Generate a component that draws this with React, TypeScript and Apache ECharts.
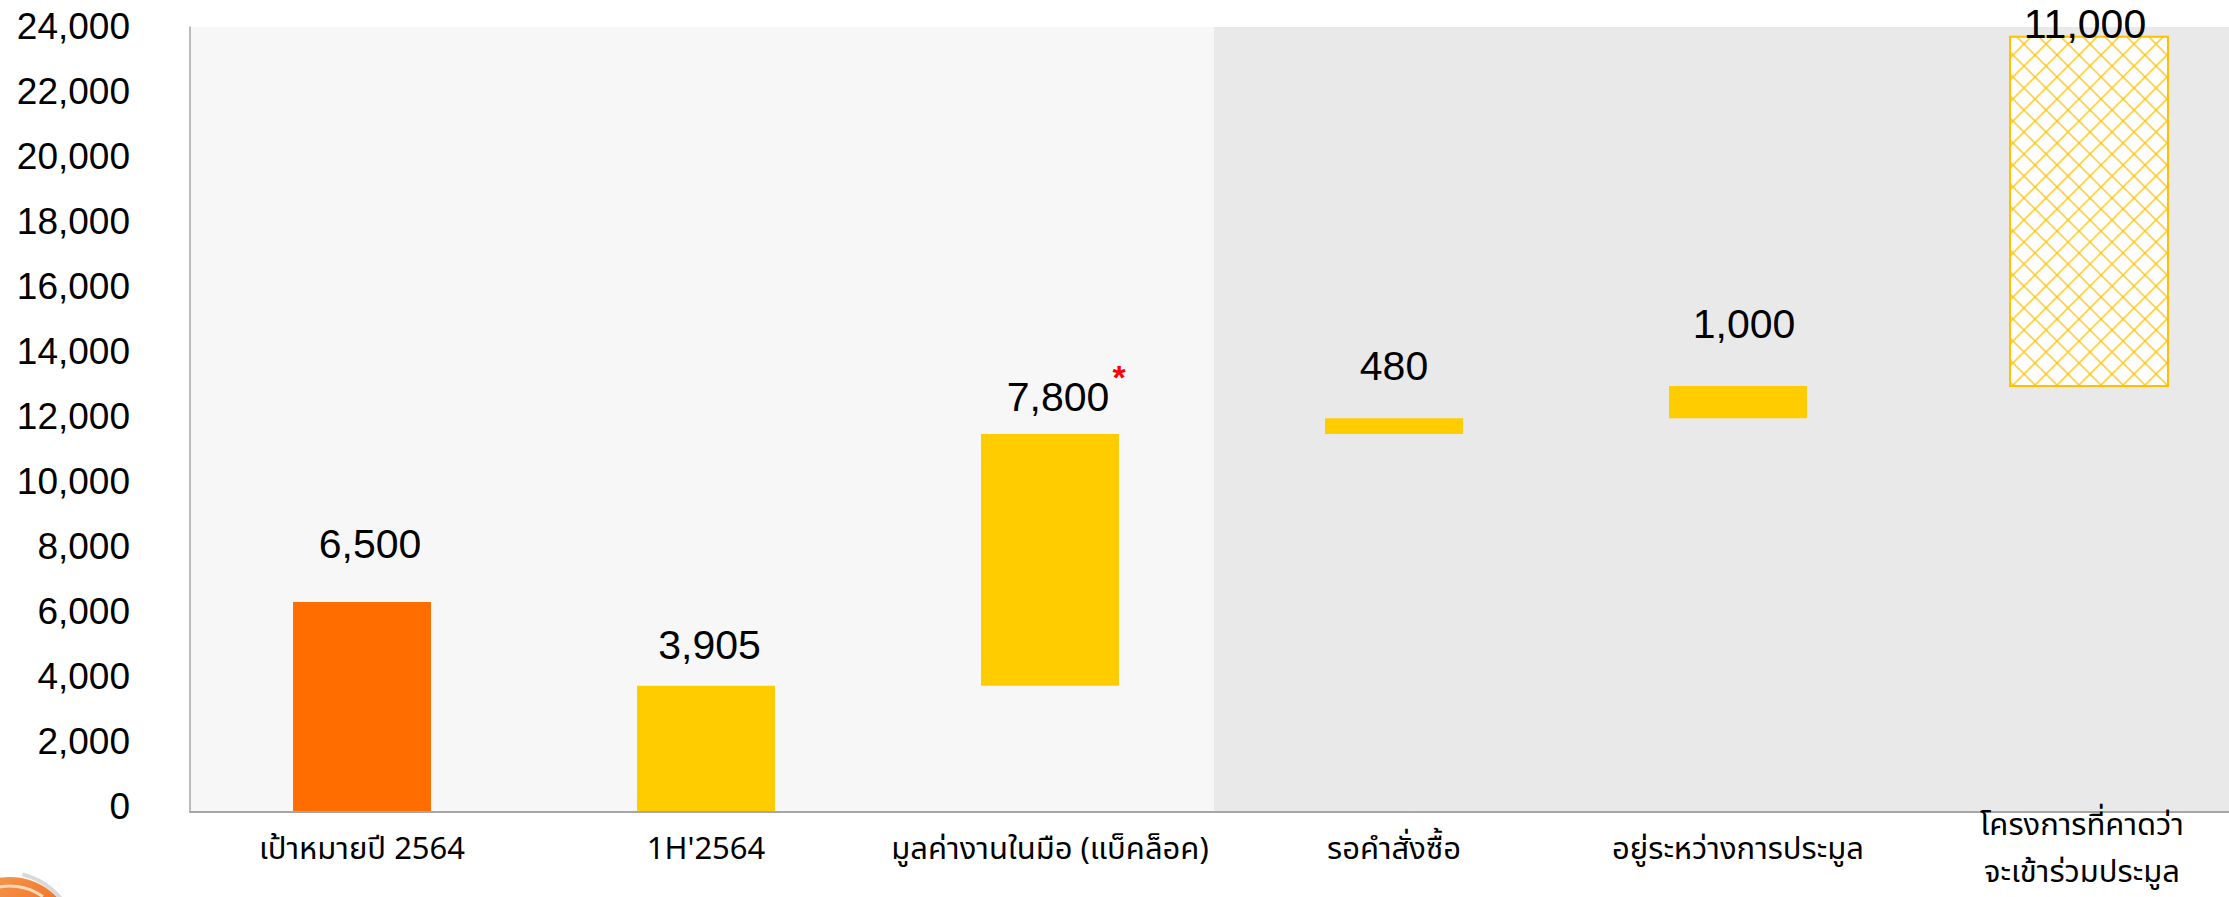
import React, { useEffect, useRef } from 'react';
import * as echarts from 'echarts';

// ---------- data ----------
const categories = [
  'เป้าหมายปี 2564',
  "1H'2564",
  'มูลค่างานในมือ (แบ็คล็อค)',
  'รอคำสั่งซื้อ',
  'อยู่ระหว่างการประมูล',
  'โครงการที่คาดว่า\nจะเข้าร่วมประมูล',
];
const barValues = [6500, 3905, 7800, 480, 1000, 11000];
const barLabels = ['6,500', '3,905', '7,800', '480', '1,000', '11,000'];
const barMarks = ['', '', '*', '', '', ''];
const startsFromZero = [true, true, false, false, false, false];
const barKinds = ['target', 'actual', 'actual', 'actual', 'actual', 'expected'];
const zoneFirst = [0, 3];
const zoneLast = [2, 5];
const yTicks = [0, 2000, 4000, 6000, 8000, 10000, 12000, 14000, 16000, 18000, 20000, 22000, 24000];
const yTickMax = 24000;
const yAxisMax = 24300;

// ---------- layout / style ----------
const barWidthRatio = [0.401, 0.401, 0.401, 0.401, 0.401, 0.459];
const barShiftPx = [0, 0, 0, 0, 0, 7];
const labelDx = [8, 3.5, 8, 0, 6, 3];
const labelRise = [58, 41, 36.5, 52, 62, 13];
const zoneStartShift = [0, -8];
const zoneEndShift = [-8, 0];
const zoneFill = ['#f7f7f7', '#e9e9e9'];
const yLabelLiftBottom = 6;
const yLabelLiftTop = 10;
const kindFill: Record<string, string> = { target: '#ff6d00', actual: '#ffcc00', expected: '#ffffff' };
const hatchColor = '#ffc000';
const numFont = '"Liberation Sans", Arial, sans-serif';
const thaiFont = '"Noto Sans Thai", "Liberation Sans", Arial, sans-serif';

const barLow: number[] = [];
const barHigh: number[] = [];
barValues.forEach((v, i) => {
  const low = startsFromZero[i] ? 0 : barHigh[i - 1];
  barLow.push(low);
  barHigh.push(low + v);
});

function hatchLines(x0: number, y0: number, x1: number, y1: number, period: number) {
  const out: any[] = [];
  const style = { stroke: hatchColor, lineWidth: 1.7, opacity: 0.72 };
  const c0 = Math.ceil((x0 - y1) / period) * period;
  for (let c = c0; c <= x1 - y0; c += period) {
    const a = Math.max(x0, y0 + c);
    const b = Math.min(x1, y1 + c);
    if (b > a) out.push({ type: 'line', shape: { x1: a, y1: a - c, x2: b, y2: b - c }, style, silent: true });
  }
  const d0 = Math.ceil((x0 + y0) / period) * period;
  for (let c = d0; c <= x1 + y1; c += period) {
    const a = Math.max(x0, c - y1);
    const b = Math.min(x1, c - y0);
    if (b > a) out.push({ type: 'line', shape: { x1: a, y1: c - a, x2: b, y2: c - b }, style, silent: true });
  }
  return out;
}

export default function App() {
  const ref = useRef<HTMLDivElement>(null);
  useEffect(() => {
    document.body.style.margin = '0';
    document.body.style.overflow = 'hidden';
    if (!ref.current) return;
    const chart = echarts.init(ref.current, undefined, { renderer: 'svg' });
    const option: any = {
      animation: false,
      backgroundColor: '#ffffff',
      grid: { left: 190, top: 27, width: 2064, height: 785, containLabel: false, outerBoundsMode: 'none' },
      xAxis: {
        type: 'category',
        data: categories,
        z: 10,
        axisTick: { show: false },
        axisLine: { show: true, lineStyle: { color: '#a6a6a6', width: 2 } },
        axisLabel: {
          interval: 0,
          margin: 37,
          verticalAlign: 'middle',
          fontSize: 31,
          lineHeight: 47,
          color: '#000000',
          fontFamily: thaiFont,
        },
        splitLine: { show: false },
      },
      yAxis: {
        type: 'value',
        min: 0,
        max: yAxisMax,
        interval: 2000,
        z: 10,
        axisTick: { show: false },
        splitLine: { show: false },
        axisLine: { show: true, lineStyle: { color: '#a6a6a6', width: 1.5 } },
        axisLabel: { show: false },
      },
      series: [
        {
          type: 'custom',
          name: 'zones',
          silent: true,
          z: 1,
          data: zoneFirst.map((f, i) => [f, zoneLast[i], i]),
          renderItem: (params: any, api: any) => {
            const first = api.value(0);
            const last = api.value(1);
            const zi = api.value(2);
            const band = api.size([1, 0])[0];
            const a = api.coord([first, 0])[0] - band / 2 + zoneStartShift[zi];
            const b = api.coord([last, 0])[0] + band / 2 + zoneEndShift[zi];
            const cs = params.coordSys;
            return {
              type: 'rect',
              shape: { x: a, y: cs.y, width: b - a, height: cs.height },
              style: { fill: zoneFill[zi] },
              silent: true,
            };
          },
        },
        {
          type: 'custom',
          name: 'yLabels',
          silent: true,
          clip: false,
          z: 5,
          data: yTicks.map((v) => [0, v]),
          renderItem: (params: any, api: any) => {
            const v = api.value(1);
            const p = api.coord([0, v]);
            const lift = yLabelLiftBottom + (yLabelLiftTop - yLabelLiftBottom) * (v / yTickMax);
            return {
              type: 'text',
              x: params.coordSys.x - 60,
              y: p[1] - lift,
              style: {
                text: v.toLocaleString('en-US'),
                fill: '#000000',
                fontSize: 37,
                fontFamily: numFont,
                align: 'right',
                verticalAlign: 'middle',
              },
            };
          },
        },
        {
          type: 'custom',
          name: 'bars',
          z: 3,
          clip: false,
          data: categories.map((_, i) => [i, barLow[i], barHigh[i]]),
          renderItem: (params: any, api: any) => {
            const i = params.dataIndex;
            const low = api.value(1);
            const high = Math.min(api.value(2), yTickMax);
            const pLow = api.coord([i, low]);
            const pHigh = api.coord([i, high]);
            const band = api.size([1, 0])[0];
            const w = band * barWidthRatio[i];
            const cx = pLow[0] + barShiftPx[i];
            const x0 = cx - w / 2;
            const x1 = cx + w / 2;
            const y0 = pHigh[1];
            const y1 = pLow[1];
            const children: any[] = [];
            if (barKinds[i] === 'expected') {
              children.push({ type: 'rect', shape: { x: x0, y: y0, width: w, height: y1 - y0 }, style: { fill: kindFill.expected } });
              children.push(...hatchLines(x0, y0, x1, y1, 22));
              children.push({
                type: 'rect',
                shape: { x: x0, y: y0, width: w, height: y1 - y0 },
                style: { fill: 'none', stroke: hatchColor, lineWidth: 2 },
              });
            } else {
              children.push({ type: 'rect', shape: { x: x0, y: y0, width: w, height: y1 - y0 }, style: { fill: kindFill[barKinds[i]] } });
            }
            const lx = pLow[0] + labelDx[i];
            const ly = y0 - labelRise[i];
            children.push({
              type: 'text',
              x: lx,
              y: ly,
              style: {
                text: barLabels[i],
                fill: '#000000',
                fontSize: 41,
                fontFamily: numFont,
                align: 'center',
                verticalAlign: 'middle',
              },
            });
            if (barMarks[i]) {
              children.push({
                type: 'text',
                x: lx + 61,
                y: ly - 20,
                style: {
                  text: barMarks[i],
                  fill: '#ff0000',
                  fontSize: 34,
                  fontWeight: 'bold',
                  fontFamily: numFont,
                  align: 'center',
                  verticalAlign: 'middle',
                },
              });
            }
            return { type: 'group', children };
          },
        },
      ],
      graphic: [
        {
          type: 'circle',
          silent: true,
          shape: { cx: 10, cy: 942, r: 65 },
          style: {
            fill: new echarts.graphic.LinearGradient(0, 0, 1, 1, [
              { offset: 0, color: '#f7a463' },
              { offset: 0.5, color: '#f07a2a' },
              { offset: 1, color: '#e45f10' },
            ]),
          },
        },
        {
          type: 'arc',
          silent: true,
          shape: { cx: 10, cy: 942, r: 56, startAngle: -Math.PI * 0.62, endAngle: -Math.PI * 0.3 },
          style: { stroke: '#fcd7b8', lineWidth: 3, fill: 'none' },
        },
        {
          type: 'arc',
          silent: true,
          shape: { cx: 4, cy: 946, r: 74, startAngle: -Math.PI * 0.42, endAngle: -Math.PI * 0.2 },
          style: { stroke: '#d9d9d9', lineWidth: 4, fill: 'none' },
        },
      ],
    };
    chart.setOption(option);
    return () => chart.dispose();
  }, []);
  return <div ref={ref} style={{ width: 2229, height: 897 }} />;
}
